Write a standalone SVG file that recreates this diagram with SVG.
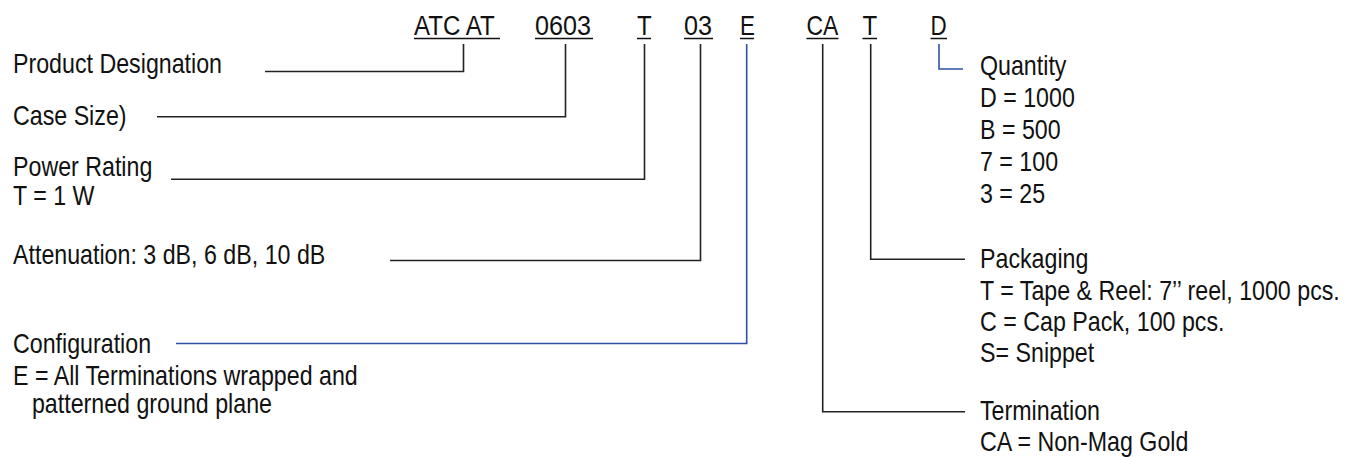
<svg xmlns="http://www.w3.org/2000/svg" width="1349" height="458" viewBox="0 0 1349 458">
<style>
text{font-family:"Liberation Sans",Arial,sans-serif;fill:#111;}
.code{font-size:28px;}
.lbl{font-size:27px;}
.ul{stroke:#111;stroke-width:1.5;}
.con{fill:none;stroke:#222;stroke-width:1.6;}
.blue{stroke:#2f50a6;stroke-width:1.6;}
</style>
<rect width="1349" height="458" fill="#fff"/>
<g id="codes">
<g id="code-atcat"><text class="code" transform="translate(414,35) scale(0.86,1)">ATC AT</text><line class="ul" x1="414" y1="38.5" x2="500" y2="38.5"/></g>
<g id="code-0603"><text class="code" transform="translate(535,35) scale(0.9,1)">0603</text><line class="ul" x1="535" y1="38.5" x2="593" y2="38.5"/></g>
<g id="code-T1"><text class="code" transform="translate(637,35) scale(0.86,1)">T</text><line class="ul" x1="637" y1="38.5" x2="651" y2="38.5"/></g>
<g id="code-03"><text class="code" transform="translate(684,35) scale(0.9,1)">03</text><line class="ul" x1="684" y1="38.5" x2="713" y2="38.5"/></g>
<g id="code-E"><text class="code" transform="translate(740,35) scale(0.8,1)">E</text><line class="ul" x1="740" y1="38.5" x2="754" y2="38.5"/></g>
<g id="code-CA"><text class="code" transform="translate(806.5,35) scale(0.82,1)">CA</text><line class="ul" x1="806.5" y1="38.5" x2="838.5" y2="38.5"/></g>
<g id="code-T2"><text class="code" transform="translate(862.5,35) scale(0.86,1)">T</text><line class="ul" x1="862.5" y1="38.5" x2="877" y2="38.5"/></g>
<g id="code-D"><text class="code" transform="translate(930.5,35) scale(0.8,1)">D</text><line class="ul" x1="930.5" y1="38.5" x2="947" y2="38.5"/></g>
</g>
<g id="connectors">
<path class="con" d="M265,71.5 H463.5 V44"/>
<path class="con" d="M157,116.7 H565.5 V44"/>
<path class="con" d="M171,179.3 H644.5 V44"/>
<path class="con" d="M390,260.5 H700.5 V44"/>
<path class="con blue" d="M176,343.5 H746.7 V44"/>
<path class="con" d="M822.7,44 V411.7 H965"/>
<path class="con" d="M870.7,44 V259.3 H965"/>
<path class="con blue" d="M939,44 V69 H963"/>
</g>
<g id="label-product"><text class="lbl" transform="translate(13,73) scale(0.86,1)">Product Designation</text></g>
<g id="label-case"><text class="lbl" transform="translate(13,125) scale(0.86,1)">Case Size)</text></g>
<g id="label-power"><text class="lbl" transform="translate(13,176) scale(0.86,1)"><tspan x="0" y="0">Power Rating</tspan><tspan x="0" y="29">T = 1 W</tspan></text></g>
<g id="label-atten"><text class="lbl" transform="translate(13,264) scale(0.86,1)">Attenuation: 3 dB, 6 dB, 10 dB</text></g>
<g id="label-config"><text class="lbl" transform="translate(13,353) scale(0.86,1)"><tspan x="0" y="0">Configuration</tspan><tspan x="0" y="32">E = All Terminations wrapped and</tspan><tspan x="22" y="60">patterned ground plane</tspan></text></g>
<g id="label-quantity"><text class="lbl" transform="translate(980,75) scale(0.86,1)"><tspan x="0" y="0">Quantity</tspan><tspan x="0" y="32">D = 1000</tspan><tspan x="0" y="64">B = 500</tspan><tspan x="0" y="96">7 = 100</tspan><tspan x="0" y="128">3 = 25</tspan></text></g>
<g id="label-packaging"><text class="lbl" transform="translate(980,268) scale(0.86,1)"><tspan x="0" y="0">Packaging</tspan><tspan x="0" y="32">T = Tape &amp; Reel: 7’’ reel, 1000 pcs.</tspan><tspan x="0" y="63">C = Cap Pack, 100 pcs.</tspan><tspan x="0" y="94">S= Snippet</tspan></text></g>
<g id="label-termination"><text class="lbl" transform="translate(980,420) scale(0.86,1)"><tspan x="0" y="0">Termination</tspan><tspan x="0" y="31">CA = Non-Mag Gold</tspan></text></g>
</svg>
